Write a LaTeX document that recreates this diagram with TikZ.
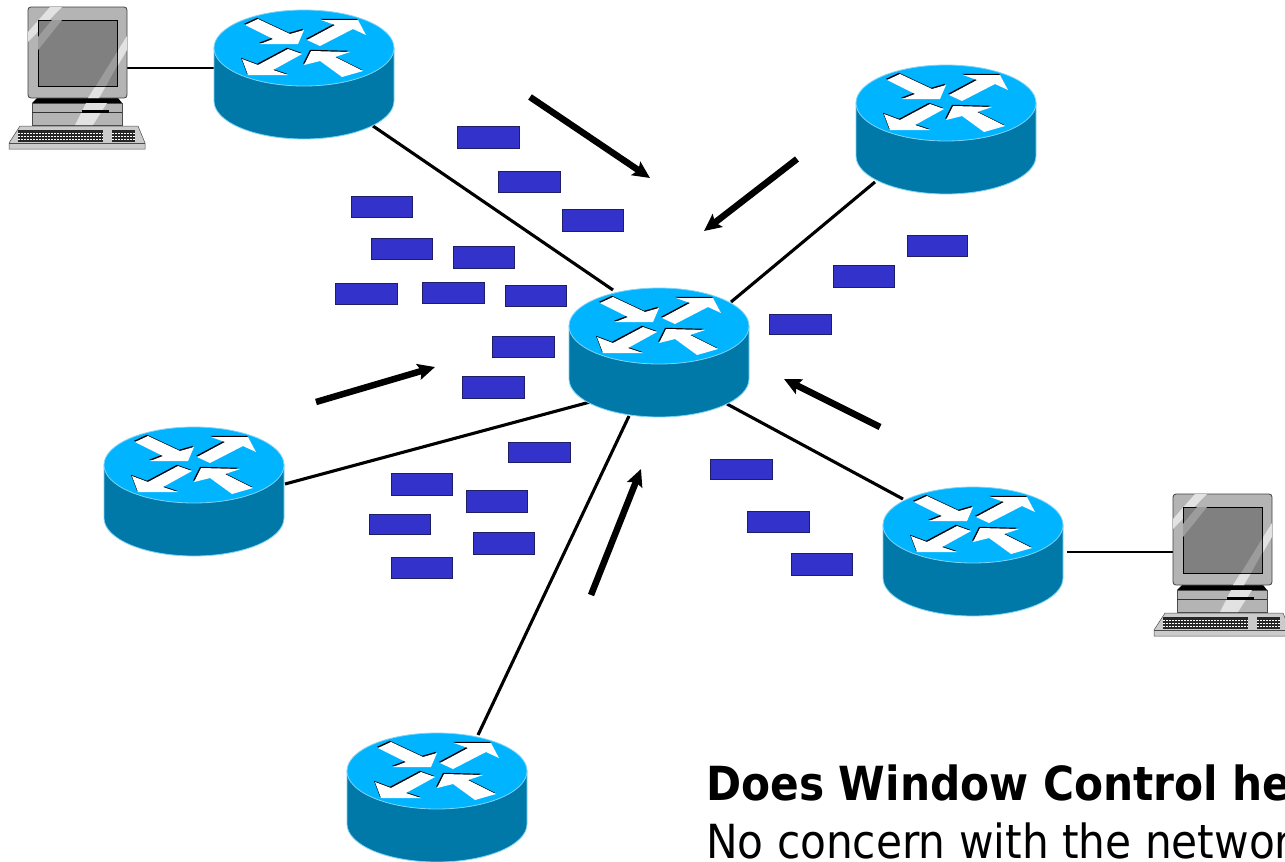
\documentclass[tikz,border=0pt]{standalone}
\usepackage{fontspec}
\setmainfont{DejaVu Sans Condensed}
\usetikzlibrary{arrows.meta}
\definecolor{rtop}{HTML}{00B4FF}
\definecolor{rbody}{HTML}{0078A8}
\definecolor{redge}{HTML}{7FD4F5}
\definecolor{pkt}{HTML}{3333CC}
\definecolor{pktedge}{HTML}{1E1E66}
\definecolor{pcgrey}{HTML}{B4B4B4}
\definecolor{pcscreen}{HTML}{808080}
\definecolor{pcglare}{HTML}{E2E2E2}
\definecolor{pcglaretwo}{HTML}{9C9C9C}
\tikzset{
  link/.style={line width=3.1pt,black},
  pclink/.style={line width=2.2pt,black},
  bigarrow/.style={line width=6.5pt,black,-{Stealth[length=17pt,width=16pt,inset=3pt]}},
  packet/.style={draw=pktedge,line width=0.8pt,fill=pkt},
  rarrow/.style={fill=white,draw=none},
  rshadow/.style={fill=black,draw=none},
  router/.pic={
    \path[fill=rbody,draw=redge,line width=0.8pt]
      (-90,0) -- (-90,53) arc[start angle=180,end angle=0,x radius=90,y radius=38]
      -- (90,0) -- cycle;
    \path[fill=rtop,draw=redge,line width=0.8pt] (0,0) ellipse[x radius=90,y radius=38];
    \foreach \s/\c in {{(-1,-1.2)}/rshadow,{(0,0)}/rarrow}{
      \begin{scope}[shift={\s}]
      \path[\c] (-59,-23) -- (-46,-29) -- (-14,-14) -- (0,-18) -- (-6,-4) -- (-44,-4) -- (-31,-9) -- cycle;
      \path[\c] (3,-8) -- (31,-23) -- (17,-28) -- (54,-28) -- (62,-13) -- (49,-19) -- (16,-2) -- cycle;
      \path[\c] (-16,1) -- (-46,17) -- (-62,11) -- (-56,27) -- (-16,27) -- (-31,22) -- (-2,6) -- cycle;
      \path[\c] (0,17) -- (7,3) -- (46,4) -- (31,9) -- (59,23) -- (38,29) -- (16,13) -- cycle;
      \end{scope}
    }
  },
  computer/.pic={
    \path[fill=black] (37,98) -- (118,98) -- (122,103) -- (32,103) -- cycle;
    \path[fill=pcgrey,draw=black!70,line width=0.4pt] (32,103) rectangle (122,125);
    \path[fill=pcgrey,draw=black!75,line width=0.8pt,rounded corners=3pt] (28,7) rectangle (127,98);
    \path[fill=pcglare] (28,42) -- (28,32) -- (50,7) -- (62,7) -- cycle;
    \path[fill=pcglare] (127,36) -- (127,50) -- (99,98) -- (88,98) -- cycle;
    \path[fill=pcscreen,draw=black,line width=0.7pt] (38,20) rectangle (117,86);
    \path[fill=pcglaretwo] (38,37) -- (52,20) -- (62,20) -- (38,50) -- cycle;
    \path[fill=pcglaretwo] (117,52) -- (117,66) -- (106,86) -- (96,86) -- cycle;
    \path[fill=pcglare] (97,103) -- (107,103) -- (93,125) -- (75,125) -- (86,103) -- cycle;
    \path[draw=black!80,line width=0.8pt] (32,112) -- (122,112);
    \path[fill=black] (82,110) rectangle (109,113);
    \path[fill=pcgrey!70,draw=black!70,line width=0.5pt] (9,143) -- (20,126) -- (138,126) -- (145,143) -- (145,149) -- (9,149) -- cycle;
    \path[draw=black!70,line width=0.5pt] (9,143) -- (145,143);
    \path[fill=black!85] (18,130) rectangle (103,142);
    \path[fill=black!85] (112,130) rectangle (135,142);
    \foreach \yy in {133,136,139}{
      \path[draw=white,line width=0.6pt,dash pattern=on 2pt off 1pt] (18,\yy) -- (103,\yy);
      \path[draw=white,line width=0.6pt,dash pattern=on 2pt off 1pt] (112,\yy) -- (135,\yy);
    }
  }
}
\begin{document}
\begin{tikzpicture}[x=1pt,y=-1pt]
\useasboundingbox (0,0) rectangle (1285,862);
\clip (0,0) rectangle (1285,862);
\fill[white] (0,0) rectangle (1285,862);

% link ends
\coordinate (p1e) at (127,68);   \coordinate (r1w) at (214,68);
\coordinate (r1c) at (373,126);  \coordinate (h1) at (613,290);
\coordinate (r2c) at (875,182);  \coordinate (h2) at (731,302);
\coordinate (r3c) at (285,484);  \coordinate (h3) at (590,402);
\coordinate (r5c) at (478,735);  \coordinate (h5) at (629,416);
\coordinate (r4c) at (903,499);  \coordinate (h4) at (727,404);
\coordinate (r4e) at (1067,552); \coordinate (p2w) at (1173,552);

\draw[pclink] (p1e) -- (r1w);
\draw[link] (r1c) -- (h1);
\draw[link] (r2c) -- (h2);
\draw[link] (r3c) -- (h3);
\draw[link] (r5c) -- (h5);
\draw[link] (r4c) -- (h4);
\draw[pclink] (r4e) -- (p2w);

\pic at (304,48) {router};
\pic at (946,103) {router};
\pic at (194,465) {router};
\pic at (973,525) {router};
\pic at (437,771) {router};
\pic at (659,326) {router};

\pic at (0,0) {computer};
\pic at (1145,487) {computer};

\foreach \a/\b/\c/\d in {
  457/126/519/148, 498/171/560/192, 562/209/623/231, 351/196/412/217,
  371/238/432/259, 453/246/514/268, 335/283/397/304, 422/282/484/303,
  505/285/566/306, 492/336/554/357, 462/376/524/398, 508/442/570/462,
  391/473/452/495, 466/490/527/512, 369/514/430/534, 473/532/534/554,
  391/557/452/578, 710/459/772/479, 747/511/809/532, 791/553/852/575,
  769/314/831/334, 833/265/894/287, 907/235/967/256}{
  \path[packet] (\a,\b) rectangle (\c,\d);
}

\coordinate (a1s) at (530,97);  \coordinate (a1e) at (650,178);
\coordinate (a2s) at (797,159); \coordinate (a2e) at (704,231);
\coordinate (a3s) at (316,402); \coordinate (a3e) at (435,367);
\coordinate (a4s) at (880,427); \coordinate (a4e) at (784,379);
\coordinate (a5s) at (591,595); \coordinate (a5e) at (641,469);
\draw[bigarrow] (a1s) -- (a1e);
\draw[bigarrow] (a2s) -- (a2e);
\draw[bigarrow] (a3s) -- (a3e);
\draw[bigarrow] (a4s) -- (a4e);
\draw[bigarrow] (a5s) -- (a5e);

\node[anchor=base west,inner sep=0pt,font=\fontsize{47pt}{52pt}\selectfont\bfseries] (title) at (706,800) {Does Window Control he};
\node[anchor=base west,inner sep=0pt,font=\fontsize{47pt}{52pt}\selectfont] (sub) at (706,858) {No concern with the networ};
\end{tikzpicture}
\end{document}
